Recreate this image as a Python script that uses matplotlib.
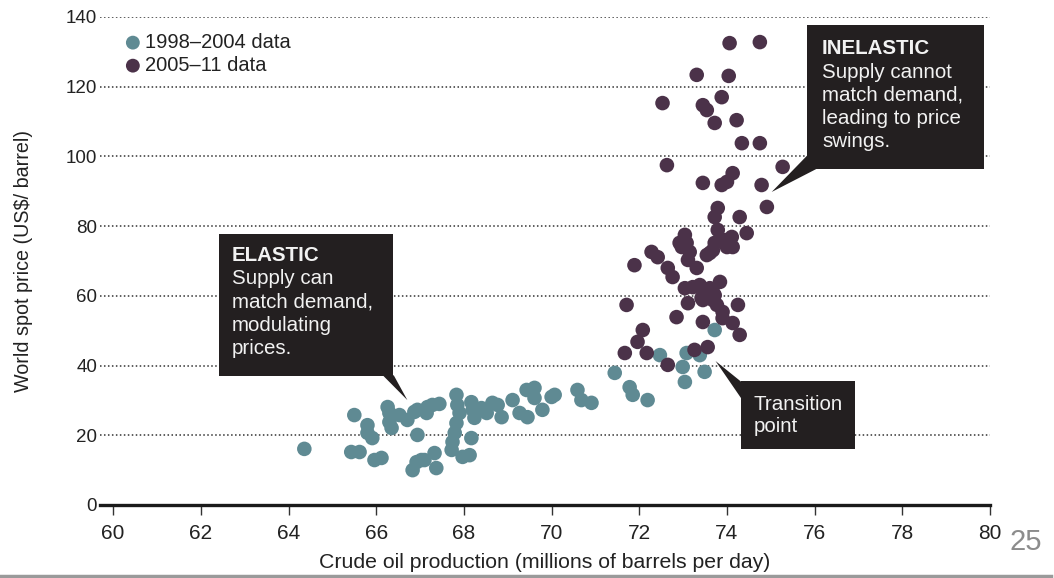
import matplotlib
matplotlib.use("Agg")
import matplotlib.pyplot as plt
from matplotlib.patches import Polygon
from matplotlib.lines import Line2D

# 1998-2004 monthly points (production, price)
prod_early = [64.36, 65.50, 65.80, 65.80, 65.91, 65.43, 65.62, 65.96, 66.12, 66.26,
              66.30, 66.30, 66.35, 66.53, 66.71, 66.87, 66.94, 66.94, 67.17, 67.28,
              67.44, 67.15, 66.83, 66.92, 67.03, 67.10, 67.33, 67.37, 67.83, 67.85,
              67.90, 67.83, 67.79, 67.74, 67.72, 67.97, 68.13, 68.17, 68.20, 68.17,
              68.24, 68.40, 68.52, 68.65, 68.77, 68.86, 69.11, 69.27, 69.45, 69.43,
              69.61, 69.61, 69.79, 70.00, 70.07, 70.59, 70.68, 70.91, 71.44, 71.78,
              71.85, 72.19, 72.47, 72.99, 73.04, 73.08, 73.38, 73.49, 73.72]
price_early = [16.1, 25.8, 22.9, 20.7, 19.2, 15.2, 15.2, 12.9, 13.5, 28.1,
               26.4, 23.8, 22.1, 25.8, 24.4, 26.7, 27.3, 20.1, 28.1, 28.7,
               29.0, 26.4, 10.0, 12.3, 12.9, 12.9, 14.9, 10.6, 31.6, 28.7,
               26.4, 23.5, 20.7, 18.1, 15.8, 13.8, 14.3, 29.5, 27.3, 19.2,
               25.0, 27.8, 26.4, 29.3, 28.7, 25.2, 30.1, 26.4, 25.2, 33.0,
               33.6, 30.7, 27.3, 31.0, 31.6, 33.0, 30.1, 29.3, 37.9, 33.8,
               31.6, 30.1, 43.0, 39.6, 35.3, 43.6, 43.0, 38.2, 50.2]

# 2005-11 monthly points
prod_late = [71.89, 72.28, 72.42, 72.65, 72.76, 71.71, 72.08, 71.96, 71.67, 72.17,
             72.65, 72.85, 73.11, 73.26, 73.45, 73.56, 73.04, 73.22, 73.38, 73.54,
             73.68, 73.84, 73.45, 73.68, 73.77, 73.90, 73.90, 74.13, 74.25, 74.29,
             72.92, 73.08, 73.54, 73.68, 74.00, 72.97, 73.04, 73.15, 73.11, 73.31,
             73.61, 73.72, 73.95, 74.11, 74.13, 73.79, 73.72, 74.45, 74.06, 74.75,
             73.31, 74.04, 72.53, 73.45, 73.54, 73.88, 73.72, 74.22, 74.34, 74.75,
             72.63, 73.45, 73.88, 74.00, 74.13, 74.79, 75.27, 74.91, 73.79, 73.72,
             74.29, 73.61, 73.42]
price_late = [68.8, 72.6, 71.1, 68.0, 65.4, 57.4, 50.2, 46.8, 43.6, 43.6,
              40.2, 53.9, 57.9, 44.5, 52.5, 45.3, 62.2, 62.5, 63.1, 61.7,
              61.1, 64.0, 58.8, 58.8, 57.4, 55.4, 53.6, 52.2, 57.4, 48.8,
              75.2, 75.2, 71.7, 73.1, 74.0, 74.0, 77.5, 72.6, 70.3, 68.0,
              62.2, 60.2, 76.0, 76.9, 74.0, 78.9, 75.2, 78.0, 132.5, 132.8,
              123.4, 123.1, 115.3, 114.7, 113.3, 117.0, 109.6, 110.4, 103.8, 103.8,
              97.5, 92.4, 91.8, 92.7, 95.2, 91.8, 97.0, 85.5, 85.2, 82.6,
              82.6, 72.3, 59.4]

x_ticks = list(range(60, 81, 2))
y_ticks = list(range(0, 141, 20))

teal = "#5f8a93"
plum = "#4b3249"
box_col = "#231f20"
txt_col = "#f2f2f2"

plt.rcParams['font.family'] = ['Liberation Sans', 'DejaVu Sans']
narrow = ['Liberation Sans Narrow', 'Liberation Sans']

fig = plt.figure(figsize=(10.54, 5.78), dpi=100)
ax = fig.add_axes([0.0949, 0.1263, 0.8444, 0.8443])

ax.scatter(prod_early, price_early, s=110, color=teal, edgecolors='none', zorder=3,
           label="1998\u20132004 data")
ax.scatter(prod_late, price_late, s=110, color=plum, edgecolors='none', zorder=3,
           label="2005\u201311 data")

ax.set_xlim(59.7, 80)
ax.set_ylim(0, 140)

# dotted horizontal grid, no line at zero
for v in y_ticks[1:]:
    ax.axhline(v, color="#333333", lw=1.1, ls=(0, (1, 1.6)), zorder=1)

for s in ['top', 'right', 'left']:
    ax.spines[s].set_visible(False)
ax.spines['bottom'].set_linewidth(2.4)
ax.spines['bottom'].set_color("#1a1a1a")

ax.set_xticks(x_ticks)
ax.set_yticks(y_ticks)
ax.tick_params(axis='x', direction='out', length=7, width=1, color="#333333", pad=7)
ax.tick_params(axis='y', length=0, pad=2, labelsize=13.5, labelcolor="#222222")
for lab in ax.get_xticklabels():
    lab.set_family(narrow)
    lab.set_fontsize(15)
    lab.set_color("#222222")

ax.set_xlabel("Crude oil production (millions of barrels per day)",
              family=narrow, fontsize=15.3, color="#222222", labelpad=7)
ax.set_ylabel("World spot price (US$/ barrel)", fontsize=14.2, color="#222222", labelpad=24)

leg = ax.legend(loc='upper left', bbox_to_anchor=(0.012, 0.988), frameon=False,
                handletextpad=0.0, borderpad=0, labelspacing=0.2, handlelength=1.2,
                prop={'size': 14.5}, markerscale=0.95)
for t in leg.get_texts():
    t.set_color("#222222")


def callout(box, tri):
    # dark box with a pointer wedge
    x0, x1, y0, y1 = box
    ax.add_patch(Polygon([(x0, y0), (x1, y0), (x1, y1), (x0, y1)], closed=True,
                         facecolor=box_col, edgecolor='none', zorder=5, clip_on=False))
    ax.add_patch(Polygon(tri, closed=True, facecolor=box_col, edgecolor='none',
                         zorder=5, clip_on=False))


callout((62.42, 66.39, 37.0, 77.7), [(66.15, 37.2), (66.40, 37.2), (66.71, 30.1)])
callout((75.82, 79.86, 96.4, 137.7), [(75.84, 100.4), (76.07, 96.6), (75.02, 89.8)])
callout((74.32, 76.92, 16.1, 35.6), [(74.33, 35.3), (74.33, 30.5), (73.74, 41.3)])

tkw = dict(color=txt_col, fontsize=14.8, va='center', ha='left', zorder=6)
ax.text(62.70, 71.6, "ELASTIC", fontweight='bold', **tkw)
ax.text(62.70, 64.9, "Supply can", **tkw)
ax.text(62.70, 58.1, "match demand,", **tkw)
ax.text(62.70, 51.5, "modulating", **tkw)
ax.text(62.70, 44.9, "prices.", **tkw)

ax.text(76.17, 131.1, "INELASTIC", fontweight='bold', **tkw)
ax.text(76.17, 124.2, "Supply cannot", **tkw)
ax.text(76.17, 117.6, "match demand,", **tkw)
ax.text(76.17, 111.0, "leading to price", **tkw)
ax.text(76.17, 104.2, "swings.", **tkw)

ax.text(74.60, 28.9, "Transition", **tkw)
ax.text(74.60, 22.4, "point", **tkw)

# slide page number and bottom rule
fig.text(0.973, 0.062, "25", fontsize=21, color="#8c8c8c", ha='center', va='center')
fig.add_artist(Line2D([0.0, 0.997], [0.004, 0.004], color="#9a9a9a", lw=2.5))

fig.savefig("out.png", dpi=100)
